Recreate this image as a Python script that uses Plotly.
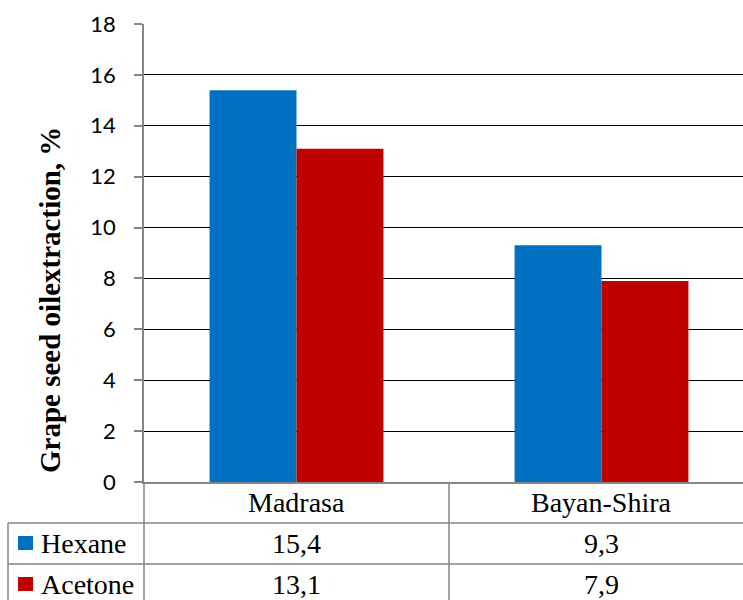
import plotly.graph_objects as go

categories = ["Madrasa", "Bayan-Shira"]
series_names = ["Hexane", "Acetone"]
hexane = [15.4, 9.3]
acetone = [13.1, 7.9]
series_values = [hexane, acetone]
colors = ["#0070C0", "#C00000"]
y_ticks = [0, 2, 4, 6, 8, 10, 12, 14, 16, 18]
y_title = "Grape seed oilextraction, %"

W, H = 743, 600
L, R, T, B = 144, 0, 24, 118
plot_w = W - L - R
plot_h = H - T - B


def px_x(p):
    return (p - L) / plot_w


def px_y(p):
    return (H - B - p) / plot_h


fig = go.Figure()
for name, vals, col in zip(series_names, series_values, colors):
    fig.add_trace(go.Bar(x=categories, y=vals, name=name, marker_color=col,
                         marker_line_width=0, showlegend=False))

grid_col = "#000000"
line_col = "#868686"
serif = "Liberation Serif, Times New Roman, serif"

shapes = []
# table horizontal lines
for yp in [523, 564]:
    shapes.append(dict(type="line", xref="paper", yref="paper",
                       x0=px_x(8), x1=px_x(W), y0=px_y(yp), y1=px_y(yp),
                       line=dict(color=line_col, width=1.5)))
# table left border
shapes.append(dict(type="line", xref="paper", yref="paper",
                   x0=px_x(8), x1=px_x(8), y0=px_y(523), y1=px_y(H + 5),
                   line=dict(color=line_col, width=1.5)))
# vertical line at plot left through table
shapes.append(dict(type="line", xref="paper", yref="paper",
                   x0=0, x1=0, y0=0, y1=px_y(H + 5),
                   line=dict(color=line_col, width=1.5)))
# vertical line between categories
shapes.append(dict(type="line", xref="x", yref="paper",
                   x0=0.5, x1=0.5, y0=0, y1=px_y(H + 5),
                   line=dict(color=line_col, width=1.5)))

annotations = []
row_centers = [543, 584]
cat_center = 502
tsize = 28
for c in categories:
    annotations.append(dict(x=c, y=px_y(cat_center), xref="x", yref="paper",
                            text=c, showarrow=False, yanchor="middle",
                            font=dict(family=serif, size=tsize, color="#000")))
for name, vals, col, yc in zip(series_names, series_values, colors, row_centers):
    annotations.append(dict(x=px_x(39), y=px_y(yc), xref="paper", yref="paper",
                            text=name, showarrow=False, xanchor="left", yanchor="middle",
                            font=dict(family=serif, size=tsize, color="#000")))
    shapes.append(dict(type="rect", xref="paper", yref="paper",
                       x0=px_x(18), x1=px_x(33), y0=px_y(yc - 7), y1=px_y(yc + 7),
                       fillcolor=col, line=dict(width=0)))
    for c, v in zip(categories, vals):
        annotations.append(dict(x=c, y=px_y(yc), xref="x", yref="paper",
                                text=f"{v:.1f}".replace(".", ","), showarrow=False,
                                yanchor="middle",
                                font=dict(family=serif, size=tsize, color="#000")))

annotations.append(dict(x=px_x(50), y=px_y(300), xref="paper", yref="paper",
                        text=f"<b>{y_title}</b>", textangle=-90, showarrow=False,
                        xanchor="center", yanchor="middle",
                        font=dict(family=serif, size=29, color="#000")))

fig.update_layout(
    width=W, height=H,
    margin=dict(l=L, r=R, t=T, b=B, pad=0),
    plot_bgcolor="white", paper_bgcolor="white",
    barmode="group", bargap=0.43, bargroupgap=0,
    shapes=shapes, annotations=annotations,
    xaxis=dict(range=[-0.5, -0.5 + plot_w / 305.0], showticklabels=False,
               showgrid=False, zeroline=False, showline=True,
               linecolor=line_col, linewidth=1.5, ticks=""),
    yaxis=dict(range=[0, 18], tickvals=y_ticks, showgrid=True, gridcolor=grid_col,
               gridwidth=1.3, zeroline=False, showline=True, linecolor=line_col,
               linewidth=1.5, ticks="outside", ticklen=8, tickcolor=line_col,
               tickwidth=1.5, ticklabelstandoff=14,
               tickfont=dict(family="Lato, Carlito, sans-serif", size=22, color="#000")),
)

fig.write_html("out.html", config={"displayModeBar": False},
               post_script="document.body.style.margin='0';document.body.style.overflow='hidden';")
